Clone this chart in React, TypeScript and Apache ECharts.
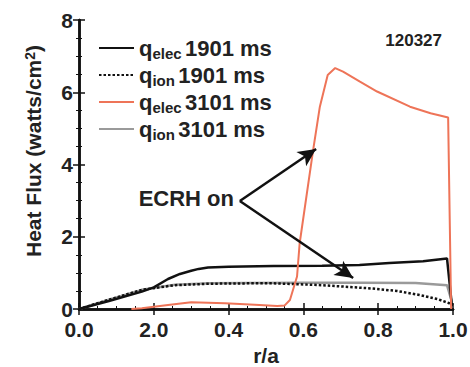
import React, { useEffect, useRef } from "react";
import * as echarts from "echarts";

const FONT = "'Liberation Sans', Arial, Helvetica, sans-serif";

const seriesNames = ["qelec 1901 ms", "qion 1901 ms", "qelec 3101 ms", "qion 3101 ms"];

const rElec1901 = [0, 0.08, 0.168, 0.2, 0.238, 0.27, 0.3, 0.32, 0.345, 0.4, 0.52, 0.65, 0.75, 0.83, 0.92, 0.984, 0.997];
const qElec1901 = [0, 0.22, 0.48, 0.6, 0.83, 0.97, 1.06, 1.11, 1.15, 1.17, 1.19, 1.2, 1.22, 1.27, 1.32, 1.4, 0.1];

const rIon1901 = [0, 0.078, 0.168, 0.257, 0.35, 0.45, 0.52, 0.65, 0.78, 0.85, 0.91, 0.96, 0.99, 1.0];
const qIon1901 = [0, 0.25, 0.53, 0.66, 0.7, 0.71, 0.71, 0.66, 0.57, 0.5, 0.39, 0.27, 0.16, 0.1];

const rElec3101 = [0.14, 0.168, 0.238, 0.3, 0.39, 0.47, 0.53, 0.55, 0.564, 0.583, 0.59, 0.626, 0.644, 0.665, 0.685, 0.706, 0.75, 0.797, 0.885, 0.94, 0.987, 0.995];
const qElec3101 = [0, 0.02, 0.11, 0.19, 0.16, 0.12, 0.08, 0.1, 0.25, 0.9, 1.82, 4.4, 5.6, 6.48, 6.67, 6.57, 6.3, 6.02, 5.6, 5.42, 5.3, 0];

const rIon3101 = [0, 0.078, 0.168, 0.257, 0.35, 0.45, 0.6, 0.75, 0.9, 0.984, 0.997];
const qIon3101 = [0, 0.25, 0.53, 0.67, 0.71, 0.72, 0.73, 0.73, 0.72, 0.66, 0.2];

const xTickLabels = ["0.0", "2.0", "0.4", "0.6", "0.8", "1.0"];
const yTickLabels = ["0", "2", "4", "6", "8"];

// arrow annotation: shared start, two tips (data coords)
const arrowStart = [0.43, 2.99];
const arrowTips = [
  [0.634, 4.43],
  [0.733, 0.86],
];

const pairs = (r: number[], q: number[]) => r.map((x, i) => [x, q[i]]);

export default function App() {
  const ref = useRef<HTMLDivElement>(null);
  useEffect(() => {
    if (!ref.current) return;
    const chart = echarts.init(ref.current, undefined, { renderer: "svg" });
    const axisLine = { show: true, lineStyle: { color: "#111", width: 2.5 } };
    const tick = { show: true, inside: true, length: 6, lineStyle: { color: "#111", width: 1.5 } };
    const minor = { show: true, splitNumber: 4, length: 3, lineStyle: { color: "#111", width: 1 } };
    const labelStyle = { fontFamily: FONT, fontWeight: "bold" as const, fontSize: 21, color: "#222" };
    const rich = {
      q: { fontFamily: FONT, fontWeight: "bold", fontSize: 22, lineHeight: 26, color: "#222" },
      sub: { fontFamily: FONT, fontWeight: "bold", fontSize: 15, lineHeight: 12, verticalAlign: "bottom", color: "#222" },
      t: { fontFamily: FONT, fontWeight: "bold", fontSize: 22, lineHeight: 26, color: "#222" },
    };
    chart.setOption({
      animation: false,
      grid: { left: 79, right: 17, top: 20, bottom: 58, containLabel: false, outerBoundsMode: "none" },
      legend: {
        orient: "vertical",
        left: 93,
        top: 32,
        itemWidth: 35,
        itemHeight: 14,
        itemGap: 3,
        itemStyle: { opacity: 0 },
        data: seriesNames,
        formatter: (name: string) => name.replace(/^q(\w+) (.*)$/, "{q|q}{sub|$1} {t|$2}"),
        textStyle: { rich },
      },
      xAxis: [
        {
          type: "value",
          min: 0,
          max: 1,
          interval: 0.2,
          position: "bottom",
          axisLine,
          axisTick: tick,
          minorTick: minor,
          splitLine: { show: false },
          axisLabel: {
            ...labelStyle,
            margin: 10,
            formatter: (v: number) => xTickLabels[Math.round(v / 0.2)] ?? "",
          },
          name: "r/a",
          nameLocation: "middle",
          nameGap: 35,
          nameTextStyle: { fontFamily: FONT, fontWeight: "bold", fontSize: 21, color: "#222" },
        },
        {
          type: "value",
          min: 0,
          max: 1,
          interval: 0.2,
          position: "top",
          axisLine,
          axisTick: tick,
          splitLine: { show: false },
          axisLabel: { show: false },
        },
      ],
      yAxis: [
        {
          type: "value",
          min: 0,
          max: 8,
          interval: 2,
          position: "left",
          axisLine,
          axisTick: tick,
          minorTick: minor,
          splitLine: { show: false },
          axisLabel: {
            ...labelStyle,
            margin: 6,
            formatter: (v: number) => yTickLabels[Math.round(v / 2)] ?? "",
          },
        },
        {
          type: "value",
          min: 0,
          max: 8,
          interval: 2,
          position: "right",
          axisLine,
          axisTick: tick,
          minorTick: minor,
          splitLine: { show: false },
          axisLabel: { show: false },
        },
      ],
      series: [
        {
          name: seriesNames[0],
          type: "line",
          data: pairs(rElec1901, qElec1901),
          showSymbol: false,
          symbol: "none",
          lineStyle: { color: "#111", width: 2.5 },
          itemStyle: { color: "#111" },
          z: 3,
        },
        {
          name: seriesNames[1],
          type: "line",
          data: pairs(rIon1901, qIon1901),
          showSymbol: false,
          symbol: "none",
          lineStyle: { color: "#111", width: 2.5, type: [2.5, 2] },
          itemStyle: { color: "#111" },
          z: 3,
        },
        {
          name: seriesNames[2],
          type: "line",
          data: pairs(rElec3101, qElec3101),
          showSymbol: false,
          symbol: "none",
          lineStyle: { color: "#ee7458", width: 2 },
          itemStyle: { color: "#ee7458" },
          z: 4,
          markLine: {
            silent: true,
            symbol: ["none", "arrow"],
            symbolSize: [13, 18],
            lineStyle: { color: "#111", width: 2.5, type: "solid" },
            label: { show: false },
            data: arrowTips.map((tip) => [{ coord: arrowStart }, { coord: tip }]),
            z: 6,
          },
        },
        {
          name: seriesNames[3],
          type: "line",
          data: pairs(rIon3101, qIon3101),
          showSymbol: false,
          symbol: "none",
          lineStyle: { color: "#9a9a9a", width: 2.5 },
          itemStyle: { color: "#9a9a9a" },
          z: 2,
        },
      ],
      graphic: [
        {
          type: "text",
          x: 33,
          y: 151,
          rotation: Math.PI / 2,
          style: {
            text: "Heat Flux (watts/cm{sup|2})",
            align: "center",
            verticalAlign: "middle",
            fontFamily: FONT,
            fontWeight: "bold",
            fontSize: 21,
            fill: "#222",
            rich: {
              sup: { fontFamily: FONT, fontWeight: "bold", fontSize: 14, lineHeight: 12, verticalAlign: "top", fill: "#222" },
            },
          },
        },
        {
          type: "text",
          right: 28,
          top: 32,
          style: { text: "120327", fontFamily: FONT, fontWeight: "bold", fontSize: 17, fill: "#222" },
        },
        {
          type: "text",
          x: 234,
          y: 198,
          style: {
            text: "ECRH on",
            align: "right",
            verticalAlign: "middle",
            fontFamily: FONT,
            fontWeight: "bold",
            fontSize: 22,
            fill: "#222",
          },
        },
      ],
    });
    return () => chart.dispose();
  }, []);
  return <div ref={ref} style={{ position: "absolute", left: 0, top: 0, width: 470, height: 367 }} />;
}
